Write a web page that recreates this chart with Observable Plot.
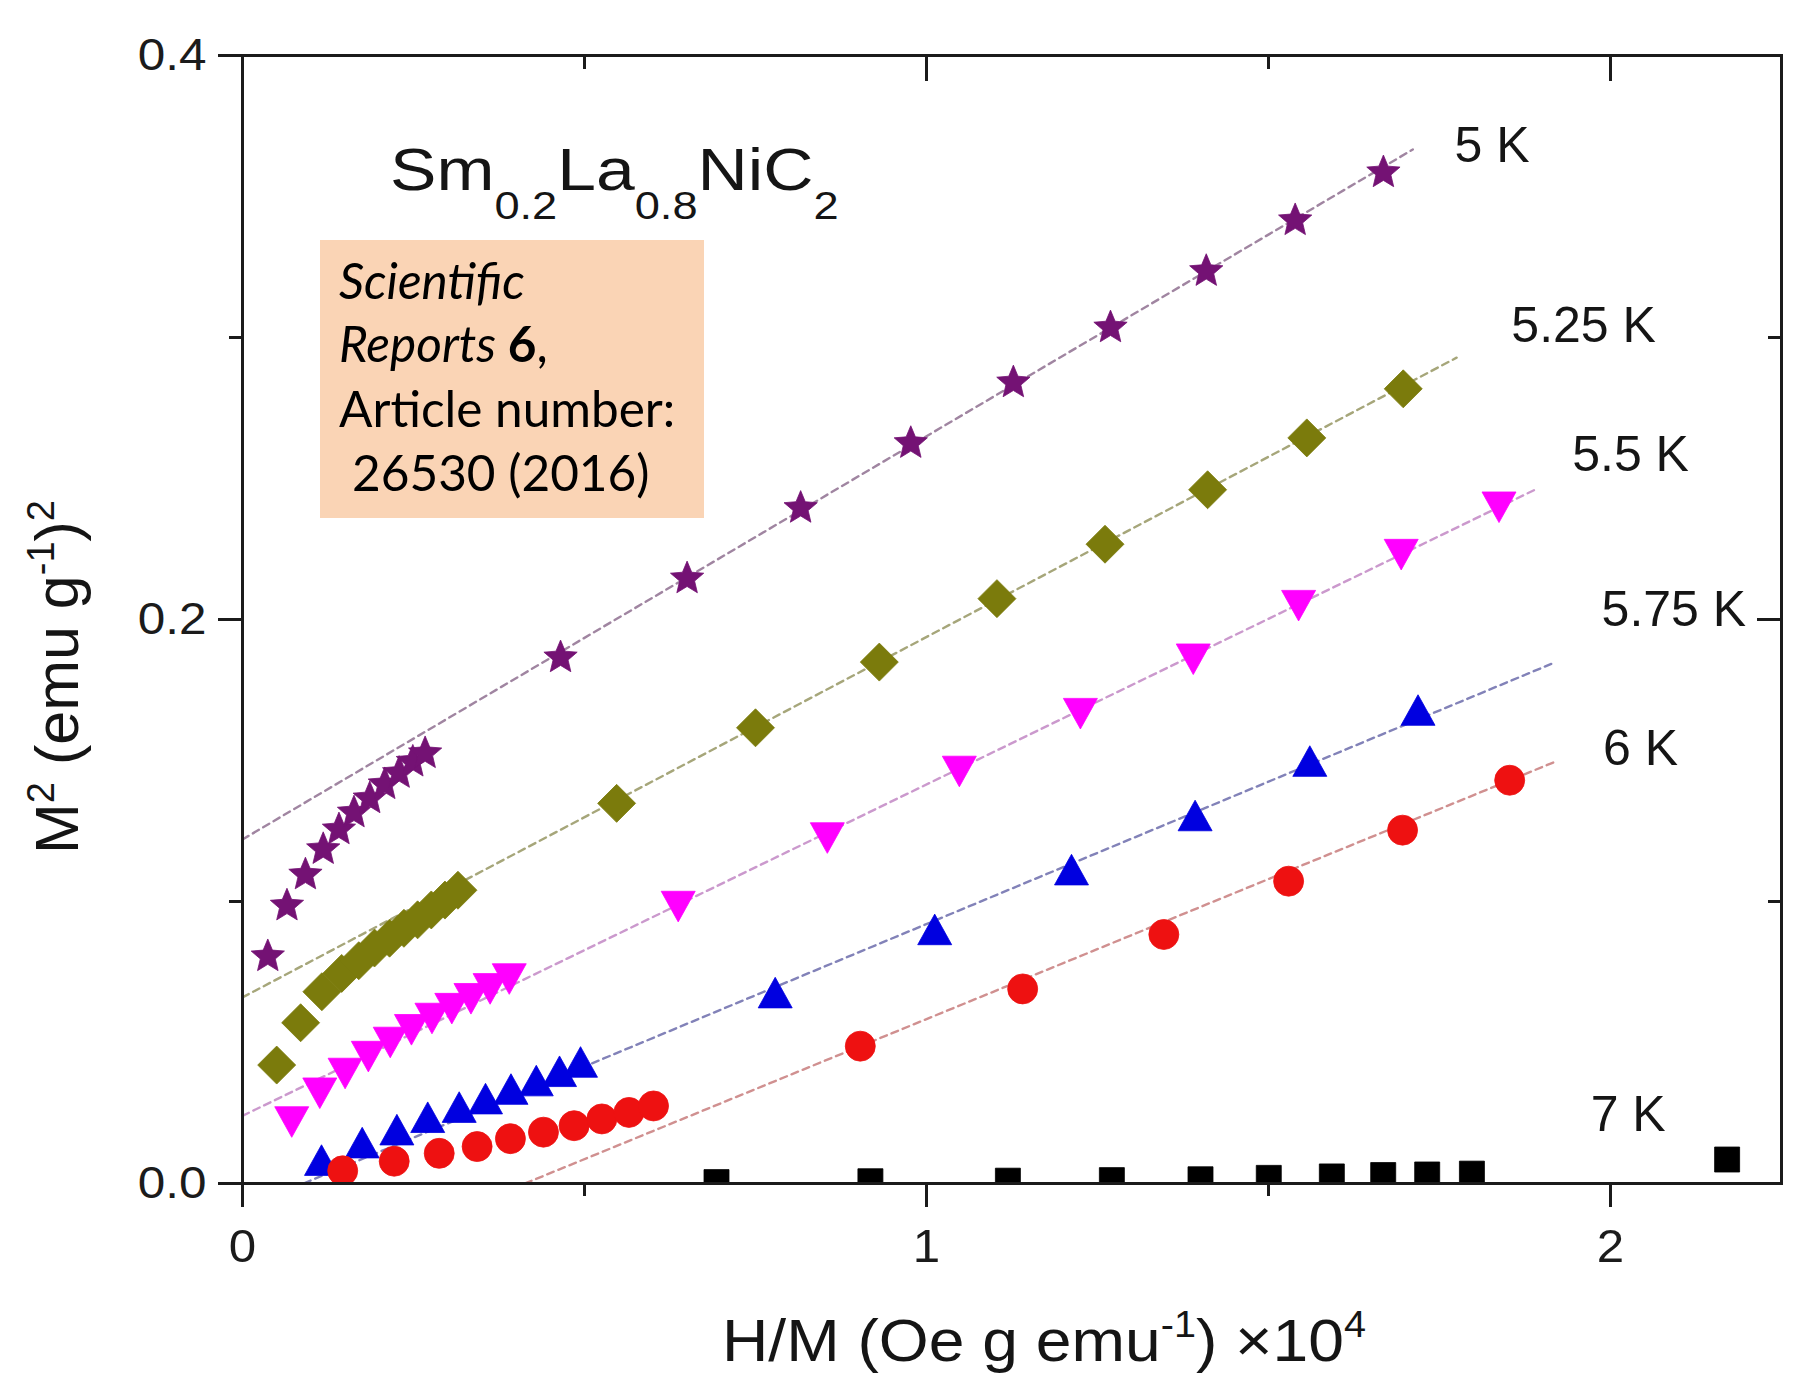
<!DOCTYPE html>
<html>
<head>
<meta charset="utf-8">
<script src="https://cdn.jsdelivr.net/npm/d3@7"></script>
<script src="https://cdn.jsdelivr.net/npm/@observablehq/plot@0.6"></script>
<style>
  html, body { margin: 0; padding: 0; background: #fff; }
  #chart svg { display: block; }
</style>
</head>
<body>
<div id="chart"></div>
<script>
// Arrott plot of Sm0.2La0.8NiC2: M^2 against H/M for several isotherms.

const temperatures = ["5 K", "5.25 K", "5.5 K", "5.75 K", "6 K", "7 K"];

// H/M in units of 10^4 Oe g emu^-1, M^2 in (emu g^-1)^2
const hm_5K   = [0.037, 0.065, 0.092, 0.118, 0.141, 0.163, 0.186, 0.208, 0.229, 0.249, 0.267, 0.465, 0.650, 0.816, 0.977, 1.127, 1.269, 1.409, 1.539, 1.668];
const m2_5K   = [0.081, 0.099, 0.110, 0.119, 0.126, 0.132, 0.137, 0.142, 0.146, 0.150, 0.153, 0.187, 0.215, 0.240, 0.263, 0.2845, 0.304, 0.324, 0.342, 0.359];

const hm_525K = [0.050, 0.085, 0.116, 0.145, 0.170, 0.193, 0.215, 0.236, 0.256, 0.276, 0.296, 0.315, 0.547, 0.750, 0.931, 1.103, 1.261, 1.411, 1.556, 1.697];
const m2_525K = [0.042, 0.057, 0.068, 0.0745, 0.079, 0.0835, 0.087, 0.0905, 0.0935, 0.097, 0.1005, 0.104, 0.1348, 0.1616, 0.1849, 0.2074, 0.2267, 0.246, 0.2644, 0.2818];

const hm_55K  = [0.072, 0.113, 0.150, 0.184, 0.216, 0.247, 0.277, 0.306, 0.334, 0.362, 0.390, 0.637, 0.855, 1.048, 1.225, 1.390, 1.544, 1.694, 1.837];
const m2_55K  = [0.0218, 0.032, 0.039, 0.045, 0.050, 0.0545, 0.0585, 0.062, 0.0655, 0.069, 0.0725, 0.0982, 0.1225, 0.1461, 0.1666, 0.1859, 0.2049, 0.223, 0.2398];

const hm_575K = [0.1155, 0.175, 0.2257, 0.2708, 0.3168, 0.3553, 0.3925, 0.4295, 0.4635, 0.4942, 0.7788, 1.012, 1.212, 1.3927, 1.5604, 1.7186];
const m2_575K = [0.0083, 0.0145, 0.0191, 0.0235, 0.0271, 0.0301, 0.0335, 0.0365, 0.0398, 0.0431, 0.0677, 0.0901, 0.1113, 0.1305, 0.1498, 0.1679];

const hm_6K   = [0.1465, 0.2218, 0.2876, 0.343, 0.3917, 0.440, 0.4848, 0.5254, 0.565, 0.6009, 0.9032, 1.1406, 1.347, 1.5294, 1.696, 1.8526];
const m2_6K   = [0.0045, 0.0079, 0.0107, 0.0131, 0.0159, 0.0182, 0.0205, 0.0229, 0.0252, 0.0275, 0.0487, 0.069, 0.0883, 0.1072, 0.1253, 0.143];

const hm_7K   = [0.693, 0.918, 1.119, 1.271, 1.4006, 1.5004, 1.5926, 1.6677, 1.732, 1.7974, 2.1705];
const m2_7K   = [0.0005, 0.0008, 0.001, 0.0012, 0.0015, 0.002, 0.0025, 0.003, 0.0032, 0.0035, 0.0085];

// Straight-line fits of the high-field part (5 K ... 6 K)
const fitIntercept = [0.122, 0.066, 0.024, -0.009, -0.041];
const fitSlope     = [0.143, 0.1278, 0.1175, 0.101, 0.0993];
const fitStart     = [0, 0, 0, 0.09, 0.413];
const fitEnd       = [1.711, 1.775, 1.89, 1.92, 1.921];

// Temperature labels, anchored at their left edge
const labelX = [1.772, 1.855, 1.944, 1.987, 1.989, 1.971];
const labelY = [0.368, 0.304, 0.2584, 0.2034, 0.1542, 0.0242];

const xTicks = [0, 1, 2];
const xMinorTicks = [0.5, 1.5];
const yTicks = [0, 0.2, 0.4];
const yMinorTicks = [0.1, 0.3];

// ---------------------------------------------------------------------------
// Marker shapes (r is the half-extent of the marker)
const radius = size => Math.sqrt(size / Math.PI);
const star = {draw(c, size) {
  const r = radius(size), ri = r * 0.45;
  for (let i = 0; i < 10; i++) {
    const a = -Math.PI / 2 + i * Math.PI / 5, rr = i % 2 ? ri : r;
    const px = rr * Math.cos(a), py = rr * Math.sin(a) + 0.08 * r;
    i ? c.lineTo(px, py) : c.moveTo(px, py);
  }
  c.closePath();
}};
const diamond = {draw(c, size) {
  const r = radius(size);
  c.moveTo(0, -r); c.lineTo(r, 0); c.lineTo(0, r); c.lineTo(-r, 0); c.closePath();
}};
const triUp = {draw(c, size) {
  const r = radius(size);
  c.moveTo(0, -0.9 * r); c.lineTo(r, 0.9 * r); c.lineTo(-r, 0.9 * r); c.closePath();
}};
const triDown = {draw(c, size) {
  const r = radius(size);
  c.moveTo(0, 0.9 * r); c.lineTo(r, -0.9 * r); c.lineTo(-r, -0.9 * r); c.closePath();
}};
const square = {draw(c, size) {
  const r = radius(size);
  c.rect(-r, -r, 2 * r, 2 * r);
}};

const seriesStyle = {
  "5 K":    {fill: "#741274", symbol: star,     r: 17.5, line: "#a085a1"},
  "5.25 K": {fill: "#7b7b0c", symbol: diamond,  r: 19,   line: "#a6a67a"},
  "5.5 K":  {fill: "#ff00ff", symbol: triDown,  r: 17,   line: "#cb99cd"},
  "5.75 K": {fill: "#0000e0", symbol: triUp,    r: 17,   line: "#8282b8"},
  "6 K":    {fill: "#ee1111", symbol: "circle", r: 15,   line: "#d09090"},
  "7 K":    {fill: "#000000", symbol: square,   r: 12.5, line: "#888888"}
};

// ---------------------------------------------------------------------------
const seriesX = [hm_5K, hm_525K, hm_55K, hm_575K, hm_6K, hm_7K];
const seriesY = [m2_5K, m2_525K, m2_55K, m2_575K, m2_6K, m2_7K];

const points = temperatures.flatMap((T, s) =>
  seriesX[s].map((x, i) => ({T, x, y: seriesY[s][i]})));

const fits = fitIntercept.flatMap((b, s) => [fitStart[s], fitEnd[s]]
  .map(x => ({T: temperatures[s], x, y: b + fitSlope[s] * x})));

const labels = temperatures.map((T, i) => ({T, x: labelX[i], y: labelY[i]}));

const W = 1799, H = 1377;
const M = {left: 242, right: 18, top: 55, bottom: 194};
const plotW = W - M.left - M.right, plotH = H - M.top - M.bottom;
const ink = "#1b1b1b";
const font = "'Liberation Sans', Arial, Helvetica, sans-serif";

const marks = [];
for (const T of temperatures.slice(0, 5)) {
  marks.push(Plot.line(fits.filter(d => d.T === T), {
    x: "x", y: "y", stroke: seriesStyle[T].line, strokeWidth: 2.4, strokeDasharray: "7,5"
  }));
}
for (const T of temperatures) {
  const s = seriesStyle[T];
  marks.push(Plot.dot(points.filter(d => d.T === T), {
    x: "x", y: "y", symbol: s.symbol, r: s.r, fill: s.fill, stroke: s.fill, strokeWidth: 0.8, clip: true
  }));
}
marks.push(
  Plot.text(labels, {x: "x", y: "y", text: "T", textAnchor: "start", fontSize: 50, fill: "#151515", ariaLabel: "temperature label"}),
  // left and bottom axes, ticks outward
  Plot.axisY(yTicks, {anchor: "left", label: null, tickSize: 24, tickPadding: 12, tickFormat: d3.format(".1f"), fontSize: 45, color: ink, strokeWidth: 3}),
  Plot.axisY(yMinorTicks, {anchor: "left", label: null, tickSize: 13, tickFormat: () => "", color: ink, strokeWidth: 3}),
  Plot.axisX(xTicks, {anchor: "bottom", label: null, tickSize: 24, tickPadding: 21, tickFormat: d3.format("d"), fontSize: 47, color: ink, strokeWidth: 3}),
  Plot.axisX(xMinorTicks, {anchor: "bottom", label: null, tickSize: 13, tickFormat: () => "", color: ink, strokeWidth: 3}),
  // top and right mirror ticks, pointing inward
  Plot.ruleX(xTicks.filter(d => d > 0), {insetBottom: plotH - 26, stroke: ink, strokeWidth: 3}),
  Plot.ruleX(xMinorTicks, {insetBottom: plotH - 14, stroke: ink, strokeWidth: 3}),
  Plot.ruleY(yTicks.filter(d => d > 0 && d < 0.4), {insetLeft: plotW - 24, stroke: ink, strokeWidth: 3}),
  Plot.ruleY(yMinorTicks, {insetLeft: plotW - 13, stroke: ink, strokeWidth: 3}),
  Plot.frame({stroke: ink, strokeWidth: 3})
);

const chart = Plot.plot({
  width: W, height: H,
  marginLeft: M.left, marginRight: M.right, marginTop: M.top, marginBottom: M.bottom,
  x: {domain: [0, 2.25], axis: null},
  y: {domain: [0, 0.4], axis: null},
  style: {fontFamily: font, background: "#fff", overflow: "visible", color: ink},
  marks
});
document.getElementById("chart").append(chart);

const svg = d3.select(chart);

// Widen Helvetica-style lettering horizontally, keeping each text's anchor
function widen(sel, k) {
  sel.each(function () {
    const len = this.getComputedTextLength();
    if (len > 0) {
      this.setAttribute("textLength", (len * k).toFixed(1));
      this.setAttribute("lengthAdjust", "spacingAndGlyphs");
    }
  });
}
widen(svg.selectAll('g[aria-label="y-axis tick label"] text'), 1.1);
widen(svg.selectAll('g[aria-label="x-axis tick label"] text'), 1.05);
widen(svg.selectAll('g[aria-label="temperature label"] text'), 1.1);

// Text with sub/superscripts
function richText(parent, parts, size, small, transform, anchor) {
  const text = parent.append("text")
    .attr("transform", transform)
    .attr("text-anchor", anchor)
    .style("font-family", font)
    .style("font-size", size + "px")
    .attr("fill", "#151515");
  let shift = 0;
  for (const p of parts) {
    const ts = text.append("tspan").text(p.t);
    const target = p.sup ? -0.4 * size : p.sub ? 0.48 * size : 0;
    if (target !== shift) { ts.attr("dy", target - shift); shift = target; }
    if (p.sup || p.sub) ts.style("font-size", small + "px");
  }
  return text;
}

// axis titles
richText(svg, [
  {t: "M"}, {t: "2", sup: true}, {t: " (emu g"}, {t: "-1", sup: true}, {t: ")"}, {t: "2", sup: true}
], 61, 38, "translate(78,677) rotate(-90)", "middle");

richText(svg, [
  {t: "H/M (Oe g emu"}, {t: "-1", sup: true}, {t: ") \u00d710"}, {t: "4", sup: true}
], 60, 37, "translate(1044,1361) scale(1.07,1)", "middle");

// compound name
richText(svg, [
  {t: "Sm"}, {t: "0.2", sub: true}, {t: "La"}, {t: "0.8", sub: true}, {t: "NiC"}, {t: "2", sub: true}
], 60, 39, "translate(390,190) scale(1.16,1)", "start");

// citation note
const note = svg.append("g")
  .attr("text-anchor", "start")
  .style("font-family", "Lato, 'Open Sans', sans-serif")
  .style("font-size", "49.5px")
  .attr("fill", "#000");
note.append("rect").attr("x", 320).attr("y", 240).attr("width", 384).attr("height", 278).attr("fill", "#fad4b5");
note.append("text").attr("x", 339).attr("y", 299).style("font-style", "italic").text("Scientific");
const l2 = note.append("text").attr("x", 339).attr("y", 362);
l2.append("tspan").style("font-style", "italic").text("Reports ");
l2.append("tspan").style("font-weight", "bold").text("6");
l2.append("tspan").text(",");
note.append("text").attr("x", 339).attr("y", 427).text("Article number:");
note.append("text").attr("x", 352).attr("y", 491).text("26530 (2016)");
</script>
</body>
</html>
